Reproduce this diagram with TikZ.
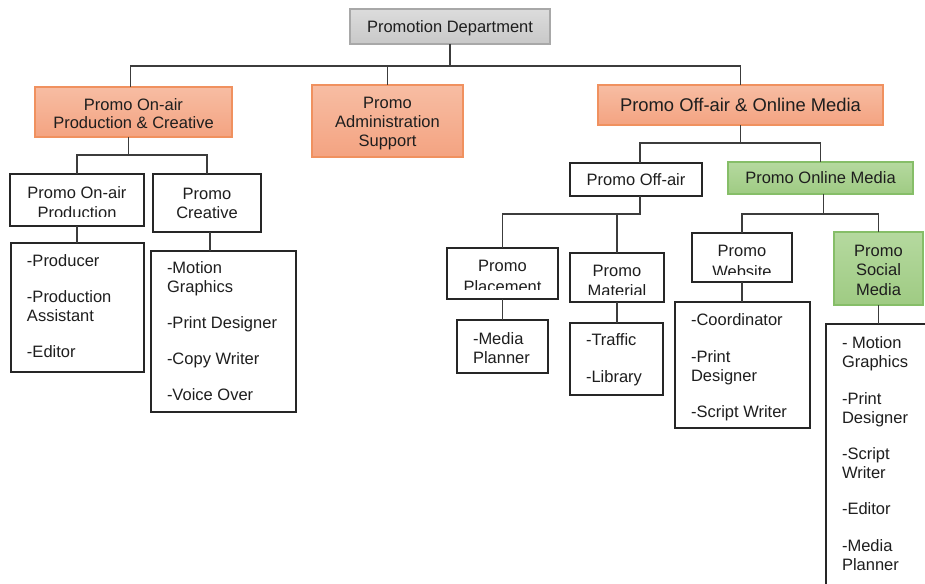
\documentclass[tikz,border=0pt]{standalone}
\usepackage{fontspec}
\setmainfont{Liberation Sans}
\definecolor{txt}{HTML}{1E1E1E}
\definecolor{bord}{HTML}{262626}
\definecolor{linec}{HTML}{3C3C3C}
\definecolor{grtop}{HTML}{DCDCDC}
\definecolor{grbot}{HTML}{C8C8C8}
\definecolor{grbord}{HTML}{A8A8A8}
\definecolor{ortop}{HTML}{F7BDA3}
\definecolor{orbot}{HTML}{F4A381}
\definecolor{orbord}{HTML}{F0915F}
\definecolor{gntop}{HTML}{B5D99F}
\definecolor{gnbot}{HTML}{9FCB83}
\definecolor{gnbord}{HTML}{86BE68}
\newcommand\fsn{\fontsize{16.5}{19}\selectfont}
\newcommand\fsb{\fontsize{18.4}{21}\selectfont}
\newcommand\bx[7]{\node[#6, minimum width=#4-#2, minimum height=#5-#3] (#1) at (#2,#3) {#7};}
\tikzset{
  base/.style={inner sep=0pt, outer sep=0pt, font=\fsn, text=txt},
  wbox/.style={base, draw=bord, line width=1.8pt, fill=white, anchor=north west, align=center},
  gbox/.style={base, draw=grbord, line width=1.2pt, top color=grtop, bottom color=grbot, anchor=north west, align=center},
  obox/.style={base, draw=orbord, line width=1.2pt, top color=ortop, bottom color=orbot, anchor=north west, align=center},
  nbox/.style={base, draw=gnbord, line width=1.2pt, top color=gntop, bottom color=gnbot, anchor=north west, align=center},
  link/.style={draw=linec, line width=1.8pt},
  txtl/.style={base, anchor=north west, align=left},
  txtc/.style={base, anchor=north, align=center},
}
\begin{document}
\begin{tikzpicture}[x=1pt,y=-1pt]
\useasboundingbox (0,0) rectangle (925,583);
\clip (0,0) rectangle (925,583);
\fill[white] (0,0) rectangle (925,583);

% bus coordinates
\coordinate (bus1) at (0,66);
\coordinate (bus2) at (0,155);
\coordinate (bus3) at (0,143);
\coordinate (bus4) at (0,214);

% boxes
\bx{dept}{350}{9}{550}{44}{gbox,text depth=0pt}{Promotion Department}
\bx{onpc}{35}{87}{232}{137}{obox}{}
\bx{admin}{312}{85}{463}{157}{obox}{}
\bx{offon}{598}{85}{883}{125}{obox,font=\fsb,text depth=0pt}{Promo Off-air \& Online Media}
\bx{onprod}{10}{174}{144}{226}{wbox}{}
\bx{creative}{153}{174}{261}{232}{wbox}{Promo\\Creative}
\bx{prodlist}{11}{243}{144}{372}{wbox}{}
\bx{clist}{151}{251}{296}{412}{wbox}{}
\bx{offair}{570}{163}{702}{196}{wbox,text depth=0pt}{Promo Off-air}
\bx{online}{728}{162}{913}{194}{nbox,text depth=0pt}{Promo Online Media}
\bx{place}{447}{248}{558}{299}{wbox}{}
\bx{mat}{570}{253}{664}{302}{wbox}{}
\bx{web}{692}{233}{792}{282}{wbox}{}
\bx{social}{834}{232}{923}{305}{nbox}{}
\bx{mplan}{457}{320}{548}{373}{wbox}{}
\bx{traffic}{570}{323}{663}{395}{wbox}{}
\bx{coord}{675}{302}{810}{428}{wbox}{}
\bx{slist}{826}{324}{980}{640}{wbox}{}

% titles of coloured boxes
\node[txtc] (tonpc) at (133.5,99) {Promo On-air\\[-1pt]Production \& Creative};
\node[txtc] (tadmin) at (387.5,97) {Promo\\Administration\\Support};
\node[txtc] (tsocial) at (878.5,245) {Promo\\[0.5pt]Social\\[0.5pt]Media};

% clipped titles
\begin{scope}
\clip (10,174) rectangle (144,216.5);
\node[txtc] (tonprod) at (77,187) {Promo On-air\\[1pt]Production};
\end{scope}
\begin{scope}
\clip (447,248) rectangle (558,289.5);
\node[txtc] (tplace) at (502.5,260) {Promo\\[2pt]Placement};
\end{scope}
\begin{scope}
\clip (570,253) rectangle (664,294.5);
\node[txtc] (tmat) at (617,265) {Promo\\[1pt]Material};
\end{scope}
\begin{scope}
\clip (692,233) rectangle (792,274);
\node[txtc] (tweb) at (742,245) {Promo\\[2pt]Website};
\end{scope}

% list texts
\node[txtl] (lprod) at (27,255) {-Producer\\[17pt]-Production\\Assistant\\[17pt]-Editor};
\node[txtl] (lcre) at (167,262) {-Motion\\Graphics\\[17pt]-Print Designer\\[17pt]-Copy Writer\\[17pt]-Voice Over};
\node[txtl] (lmp) at (473,333) {-Media\\Planner};
\node[txtl] (ltr) at (586,334) {-Traffic\\[18pt]-Library};
\node[txtl] (lco) at (691,314) {-Coordinator\\[18pt]-Print\\Designer\\[17pt]-Script Writer};
\node[txtl] (lso) at (842,337) {- Motion\\Graphics\\[18pt]-Print\\Designer\\[17pt]-Script\\Writer\\[17pt]-Editor\\[18pt]-Media\\Planner};

% connectors
\draw[link] (dept.south) -- (dept.south |- bus1);
\draw[link] ([xshift=-3pt]onpc.north) -- ([xshift=-3pt]onpc.north |- bus1) -- (offon.north |- bus1) -- (offon.north);
\draw[link] (admin.north) -- (admin.north |- bus1);

\draw[link] ([xshift=-5pt]onpc.south) -- ([xshift=-5pt]onpc.south |- bus2);
\draw[link] (onprod.north) -- (onprod.north |- bus2) -- (creative.north |- bus2) -- (creative.north);
\draw[link] (onprod.south) -- (onprod.south |- prodlist.north);
\draw[link] ([xshift=3pt]creative.south) -- ([xshift=3pt]creative.south |- clist.north);

\draw[link] (offon.south) -- (offon.south |- bus3);
\draw[link] ([xshift=4pt]offair.north) -- ([xshift=4pt]offair.north |- bus3) -- (online.north |- bus3) -- (online.north);

\draw[link] ([xshift=4pt]offair.south) -- ([xshift=4pt]offair.south |- bus4) -- (place.north |- bus4) -- (place.north);
\draw[link] (mat.north) -- (mat.north |- bus4);
\draw[link] (place.south) -- (place.south |- mplan.north);
\draw[link] (mat.south) -- (mat.south |- traffic.north);

\draw[link] ([xshift=3pt]online.south) -- ([xshift=3pt]online.south |- bus4);
\draw[link] (web.north) -- (web.north |- bus4) -- (social.north |- bus4) -- (social.north);
\draw[link] (web.south) -- (web.south |- coord.north);
\draw[link] (social.south) -- (social.south |- slist.north);
\end{tikzpicture}
\end{document}
